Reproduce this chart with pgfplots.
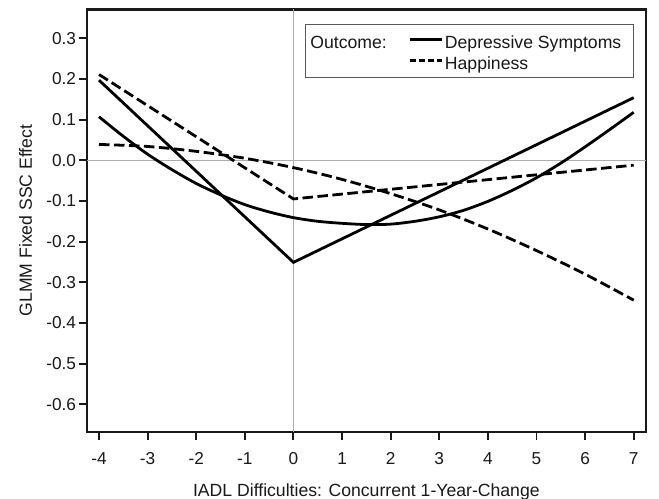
\documentclass[border=0pt]{standalone}
\usepackage{pgfplots}
\pgfplotsset{compat=1.18}
\usepackage{fontspec}
\setmainfont{Liberation Sans}
\begin{document}
\begin{tikzpicture}
\useasboundingbox (-86.7bp,-67.3bp) rectangle (572.3bp,431.7bp);
\begin{axis}[
  at={(0,0)}, anchor=south west,
  scale only axis, width=559.3bp, height=422.2bp,
  xmin=-4.253, xmax=7.253, ymin=-0.6674, ymax=0.3708,
  axis line style={line width=2.3bp, black!90},
  tick align=outside, xtick pos=left, ytick pos=left,
  major tick length=8bp,
  tick style={line width=1.9bp, black!90},
  xtick={-4,-3,-2,-1,0,1,2,3,4,5,6,7},
  xticklabels={-4,-3,-2,-1,0,1,2,3,4,5,6,7},
  ytick={-0.6,-0.5,-0.4,-0.3,-0.2,-0.1,0,0.1,0.2,0.3},
  yticklabels={-0.6,-0.5,-0.4,-0.3,-0.2,-0.1,0.0,0.1,0.2,0.3},
  ticklabel style={font=\fontsize{17.3}{20}\selectfont, text=black!90},
  xticklabel style={anchor=north, inner sep=0bp, yshift=-12.3bp},
  yticklabel style={anchor=east, inner sep=0bp, xshift=-2.5bp},
  xlabel={IADL Difficulties: Concurrent 1-Year-Change},
  ylabel={GLMM Fixed SSC Effect},
  label style={font=\fontsize{17.7}{20}\selectfont, text=black!90},
  xlabel style={at={(axis description cs:0.5,-0.154)}, anchor=base, inner sep=0bp},
  ylabel style={at={(axis description cs:-0.1094,0.5)}, anchor=center, rotate=0, inner sep=0bp},
  legend image code/.code={\draw[#1] (0bp,1.5bp) -- (29bp,1.5bp); \path (0bp,1.5bp) -- (32bp,1.5bp);},
  legend columns=2,
  legend cell align=left,
  legend style={at={(axis description cs:0.97855,0.96566)}, anchor=north east,
    draw=black!65, line width=1.1bp, font=\fontsize{17.7}{20}\selectfont, text=black!90,
    inner xsep=3bp, inner ysep=5.575bp, row sep=0bp,
    nodes={inner xsep=2bp, inner ysep=0.925bp, text height=17.15bp, text depth=2bp},
    /tikz/every even column/.append style={column sep=19.3bp}},
]
% reference lines
\addplot[forget plot, gray!65, line width=0.9bp] coordinates {(0,-0.6674) (0,0.3708)};
\addplot[forget plot, gray!65, line width=0.9bp] coordinates {(-4.253,0) (7.253,0)};

% Depressive symptoms: piecewise linear
\addplot[forget plot, black, line width=2.8bp] coordinates {(-4,0.197) (0,-0.251) (7,0.154)};
% Depressive symptoms: curved
\addplot[forget plot, black, line width=2.8bp, smooth] coordinates {
(-4,0.107) (-3.5,0.059) (-3,0.015) (-2.5,-0.023) (-2,-0.057) (-1.5,-0.085)
(-1,-0.109) (-0.5,-0.127) (0,-0.141) (0.5,-0.150) (1,-0.155) (1.5,-0.158)
(2,-0.157) (2.5,-0.150) (3,-0.139) (3.5,-0.123) (4,-0.101) (4.5,-0.074)
(5,-0.043) (5.5,-0.007) (6,0.033) (6.5,0.075) (7,0.118)};

% Happiness: piecewise linear
\addplot[forget plot, black, line width=2.8bp, dash pattern=on 10.5bp off 4.5bp] coordinates {(-4,0.211) (0,-0.095) (7,-0.012)};
% Happiness: curved
\addplot[forget plot, black, line width=2.8bp, dash pattern=on 10.5bp off 4.5bp, smooth] coordinates {
(-4,0.039) (-3,0.034) (-2,0.022) (-1,0.005) (0,-0.018) (1,-0.047) (2,-0.082)
(3,-0.122) (4,-0.169) (5,-0.222) (6,-0.280) (7,-0.344)};

\addlegendimage{empty legend}
\addlegendentry{Outcome:}
\addlegendimage{black, line width=2.8bp}
\addlegendentry{Depressive Symptoms\hspace*{7.15bp}}
\addlegendimage{empty legend}
\addlegendentry{}
\addlegendimage{black, line width=2.8bp, dash pattern=on 6bp off 3.3bp}
\addlegendentry{Happiness}
\end{axis}
\end{tikzpicture}
\end{document}
